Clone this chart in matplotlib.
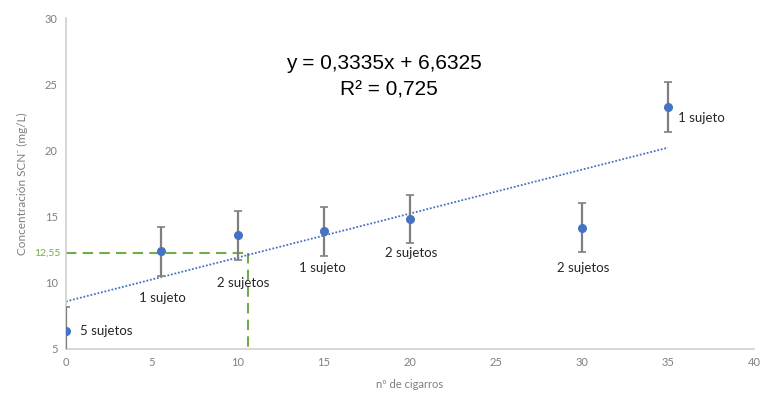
import numpy as np
import matplotlib
matplotlib.use('Agg')
import matplotlib.pyplot as plt

# values
cigarros = [0, 5.5, 10, 15, 20, 30, 35]
scn = [6.35, 12.4, 13.6, 13.9, 14.8, 14.15, 23.3]
scn_err = [1.8, 1.85, 1.85, 1.85, 1.8, 1.85, 1.9]
labels = ['5 sujetos', '1 sujeto', '2 sujetos', '1 sujeto',
          '2 sujetos', '2 sujetos', '1 sujeto']
label_x = [0.8, 5.6, 10.3, 14.9, 20.1, 30.1, 35.6]
label_y = [6.35, 8.85, 10.0, 11.1, 12.25, 11.1, 22.45]
label_ha = ['left', 'center', 'center', 'center', 'center', 'center', 'left']

ref_y = 12.25      # where the dashed guide is drawn
ref_label = '12,55'
ref_x = 10.6

xticks = [0, 5, 10, 15, 20, 25, 30, 35, 40]
yticks = [5, 10, 15, 20, 25, 30]

blue = '#4472C4'
green = '#70AD47'
grey_txt = '#7f7f7f'

plt.rcParams['font.family'] = ['Lato', 'DejaVu Sans']

fig = plt.figure(figsize=(7.61, 4.03), dpi=100)
ax = fig.add_axes([0.0867, 0.134, 0.904, 0.821])

# trend line from the data
coef = np.polyfit(cigarros, scn, 1)
tx = np.array([min(cigarros), max(cigarros)])
ax.plot(tx, np.polyval(coef, tx), ls=(0, (1, 1)), color=blue, lw=1.3, zorder=2)

# green guide
ax.plot([0, ref_x], [ref_y, ref_y], ls=(0, (5, 3)), color=green, lw=1.5, zorder=1)
ax.plot([ref_x, ref_x], [ref_y, 5], ls=(0, (5, 3)), color=green, lw=1.5, zorder=1)

ax.errorbar(cigarros, scn, yerr=scn_err, fmt='o', color=blue, ms=5.5,
            ecolor='#7f7f7f', elinewidth=1.6, capsize=3, capthick=1.2,
            zorder=3, clip_on=True)

for t, x, y, ha in zip(labels, label_x, label_y, label_ha):
    ax.text(x, y, t, ha=ha, va='center', fontsize=9.5, color='#262626')

eq_font = ['Liberation Sans', 'DejaVu Sans']
ax.text(18.5, 26.6, 'y = 0,3335x + 6,6325', ha='center', va='center',
        fontsize=15, family=eq_font, color='#000000')
ax.text(18.8, 24.55, 'R² = 0,725', ha='center', va='center',
        fontsize=15, family=eq_font, color='#000000')

ax.set_xlim(0, 40)
ax.set_ylim(5, 30)
ax.set_xticks(xticks)
ax.set_yticks(yticks)
ax.tick_params(length=0, labelsize=8, colors=grey_txt, pad=6)
for s in ['top', 'right']:
    ax.spines[s].set_visible(False)
for s in ['left', 'bottom']:
    ax.spines[s].set_color('#d0d0d0')
    ax.spines[s].set_linewidth(1.2)

ax.text(-0.3, ref_y, ref_label, ha='right', va='center', fontsize=7.5,
        color=green)

ax.set_xlabel('nº de cigarros', fontsize=8, color=grey_txt, labelpad=8)
ax.set_ylabel('Concentración SCN⁻ (mg/L)', fontsize=8.5, color=grey_txt,
              labelpad=12)

fig.savefig('out.png', dpi=100)
